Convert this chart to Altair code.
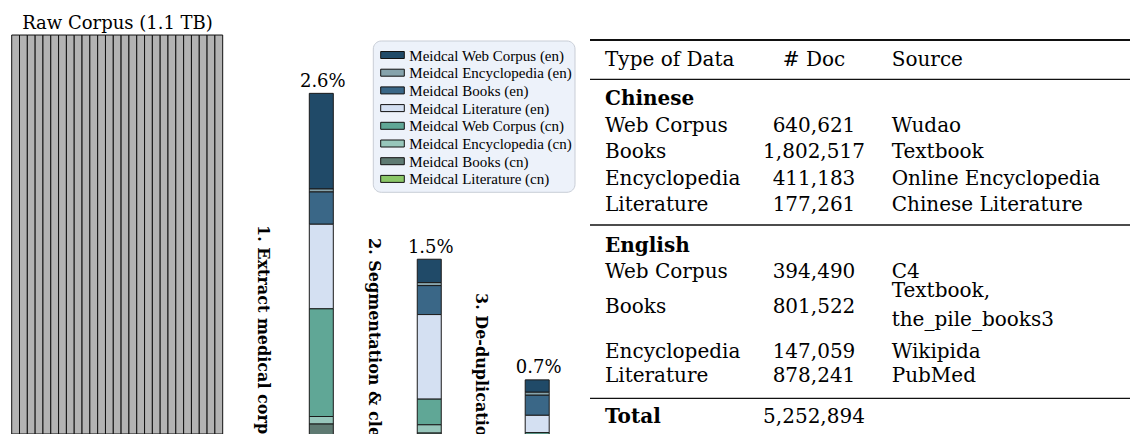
import altair as alt
import pandas as pd

# ---------------- data ----------------
categories = [
    "Meidcal Web Corpus (en)", "Meidcal Encyclopedia (en)", "Meidcal Books (en)",
    "Meidcal Literature (en)", "Meidcal Web Corpus (cn)", "Meidcal Encyclopedia (cn)",
    "Meidcal Books (cn)", "Meidcal Literature (cn)",
]
colors = ["#204a68", "#86a3ac", "#3a6787", "#d4e0f2", "#60a796", "#97c6bb", "#5e7a72", "#8bc768"]

stage_names = ["Extract", "Segmentation", "De-duplication"]
stage_totals = [2.6, 1.5, 0.7]          # percent of raw corpus kept
share_extract = [0.634, 0.020, 0.214, 0.561, 0.714, 0.050, 0.378, 0.029]
share_segment = [0.155, 0.020, 0.192, 0.561, 0.170, 0.055, 0.325, 0.022]
share_dedup = [0.082, 0.020, 0.133, 0.115, 0.133, 0.033, 0.166, 0.018]
step_labels = ["1. Extract medical corpus", "2. Segmentation & cleaning", "3. De-duplication"]

raw_size_tb = 1.1
raw_title = "Raw Corpus (1.1 TB)"

table_header = ["Type of Data", "# Doc", "Source"]
data_types = ["Web Corpus", "Books", "Encyclopedia", "Literature"]
docs_cn = [640621, 1802517, 411183, 177261]
sources_cn = ["Wudao", "Textbook", "Online Encyclopedia", "Chinese Literature"]
docs_en = [394490, 801522, 147059, 878241]
sources_en = ["C4", ["Textbook,", "the_pile_books3"], "Wikipida", "PubMed"]
doc_total = 5252894

# ---------------- layout / style ----------------
W, H = 1122, 426
FONT = "DejaVu Serif"
HATCH = 27

y_scale = alt.Scale(domain=[0.341, 3.166], zero=False, nice=False)
x_stage = alt.Scale(type="point", domain=stage_names, range=[313.3, 529.2], padding=0)
color_scale = alt.Scale(domain=categories, range=colors)

# stacked bars
recs = []
for s, shares in zip(stage_names, [share_extract, share_segment, share_dedup]):
    for k, (c, v) in enumerate(zip(categories, shares)):
        recs.append({"stage": s, "category": c, "share": v, "k": k})
bars_df = pd.DataFrame(recs)

bars = alt.Chart(bars_df).mark_bar(size=24, stroke="#1a1a1a", strokeWidth=1, clip=True).encode(
    x=alt.X("stage:N", scale=x_stage, axis=None),
    y=alt.Y("share:Q", stack="zero", scale=y_scale, axis=None),
    color=alt.Color("category:N", scale=color_scale, legend=None),
    order=alt.Order("k:Q", sort="descending"),
)

pct_df = pd.DataFrame({"stage": stage_names, "total": stage_totals,
                       "label": [f"{t}%" for t in stage_totals]})
pct = alt.Chart(pct_df).mark_text(baseline="alphabetic", dy=-6.5, dx=1.5, fontSize=18, font=FONT,
                                  color="black").encode(
    x=alt.X("stage:N", scale=x_stage, axis=None),
    y=alt.Y("total:Q", scale=y_scale, axis=None),
    text="label:N",
)

# raw corpus bar with vertical hatch
raw_df = pd.DataFrame({"stripe": list(range(HATCH)), "size_tb": [raw_size_tb] * HATCH})
raw = alt.Chart(raw_df).mark_bar(fill="#b3b3b3", stroke="#111", strokeWidth=1, clip=True).encode(
    x=alt.X("stripe:O", scale=alt.Scale(type="band", range=[3.7, 214.7], paddingInner=0,
                                        paddingOuter=0), axis=None),
    y=alt.Y("size_tb:Q", scale=alt.Scale(domain=[0, 1.1745], nice=False, zero=True), axis=None),
)
raw_t = alt.Chart(pd.DataFrame({"t": [raw_title]})).mark_text(
    fontSize=18, font=FONT, baseline="alphabetic", align="center", color="black").encode(
    x=alt.value(109.5), y=alt.value(20.5), text="t:N")

# rotated step labels
lab_df = pd.DataFrame({"t": step_labels, "px": [254.5, 365.5, 472.5], "py": [217, 230, 285]})
steps = alt.Chart(lab_df).mark_text(angle=90, align="left", baseline="middle", fontSize=16,
                                    fontWeight="bold", font=FONT, color="black").encode(
    x=alt.X("px:Q", scale=None), y=alt.Y("py:Q", scale=None), text="t:N")

# ---------------- legend (drawn as marks) ----------------
LEG_X0, LEG_X1, LEG_Y0, LEG_Y1 = 365.3, 567, 33, 184.3
ROW0, ROWSTEP = 47, 17.7
leg_df = pd.DataFrame({
    "category": categories,
    "cy": [ROW0 + ROWSTEP * i for i in range(len(categories))],
})
leg_df["y1"] = leg_df["cy"] - 3.5
leg_df["y2"] = leg_df["cy"] + 3.5
leg_df["sx1"] = 372.7
leg_df["sx2"] = 396.3
leg_df["tx"] = 401.3

leg_box = alt.Chart(pd.DataFrame({"k": [0]})).mark_rect(
    fill="#edf2fa", stroke="#c8cdd6", strokeWidth=1, cornerRadius=8).encode(
    x=alt.value(LEG_X0), x2=alt.value(LEG_X1), y=alt.value(LEG_Y0), y2=alt.value(LEG_Y1))
leg_sym = alt.Chart(leg_df).mark_rect(stroke="#111", strokeWidth=1).encode(
    x=alt.X("sx1:Q", scale=None), x2="sx2:Q", y=alt.Y("y1:Q", scale=None), y2="y2:Q",
    color=alt.Color("category:N", scale=color_scale, legend=None))
leg_txt = alt.Chart(leg_df).mark_text(align="left", baseline="middle", fontSize=15,
                                      font="Liberation Serif", color="black", dy=0.5).encode(
    x=alt.X("tx:Q", scale=None), y=alt.Y("cy:Q", scale=None), text="category:N")

# ---------------- table ----------------
col_x = [597, 806, 883.7]
col_align = ["left", "center", "left"]
cells = []
def add(text, col, y, bold=False):
    cells.append({"t": text, "px": col_x[col], "py": y, "al": col_align[col],
                  "w": "bold" if bold else "normal"})

for c, h in enumerate(table_header):
    add(h, c, 52)
add("Chinese", 0, 91, True)
cn_y = [117.5, 144, 170.5, 197]
for t, d, s, y in zip(data_types, docs_cn, sources_cn, cn_y):
    add(t, 0, y); add(f"{d:,}", 1, y); add(s, 2, y)
add("English", 0, 237.5, True)
en_y = [264, 299, 344, 367.5]
for t, d, s, y in zip(data_types, docs_en, sources_en, en_y):
    add(t, 0, y); add(f"{d:,}", 1, y)
    if isinstance(s, list):
        add(s[0], 2, y - 16.5); add(s[1], 2, y + 13)
    else:
        add(s, 2, y)
add("Total", 0, 409, True)
add(f"{doc_total:,}", 1, 409)
cells_df = pd.DataFrame(cells)

table_layers = []
for al in ["left", "center"]:
    for w in ["normal", "bold"]:
        sub = cells_df[(cells_df.al == al) & (cells_df.w == w)]
        if len(sub) == 0:
            continue
        table_layers.append(
            alt.Chart(sub).mark_text(align=al, baseline="middle", fontSize=20, font=FONT,
                                     fontWeight=w, color="black").encode(
                x=alt.X("px:Q", scale=None), y=alt.Y("py:Q", scale=None), text="t:N"))

rules_df = pd.DataFrame({"x1": [582, 582, 582, 582], "x2": [W, W, W, W],
                         "py": [32, 71.3, 217, 390.3], "sw": [2.2, 1.3, 1.3, 1.3]})
rules = alt.Chart(rules_df).mark_rule(color="#111").encode(
    x=alt.X("x1:Q", scale=None), x2="x2:Q", y=alt.Y("py:Q", scale=None),
    strokeWidth=alt.StrokeWidth("sw:Q", scale=None))

chart = alt.layer(raw, raw_t, bars, pct, steps, leg_box, leg_sym, leg_txt, rules,
                  *table_layers).resolve_scale(
    x="independent", y="independent"
).properties(
    width=W, height=H, padding=0, autosize=alt.AutoSizeParams(type="none"),
).configure_view(strokeWidth=0)

chart.save("out.html", embed_options={"renderer": "svg", "actions": False})
